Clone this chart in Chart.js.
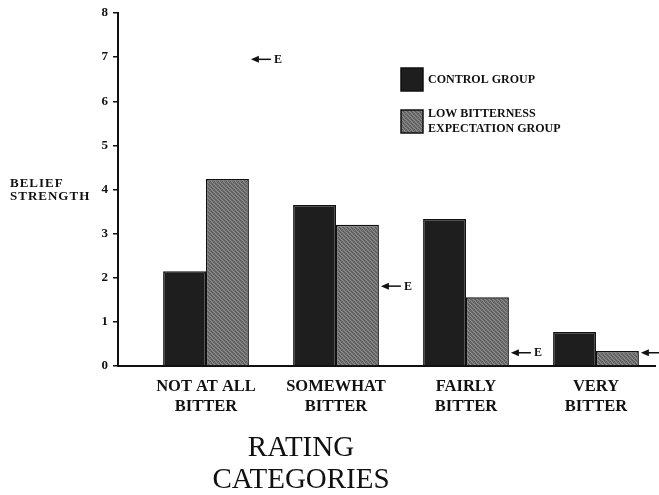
<!DOCTYPE html>
<html>
<head>
<meta charset="utf-8">
<script src="https://cdn.jsdelivr.net/npm/chart.js@4.4.1/dist/chart.umd.min.js"></script>
<style>
    html, body { margin: 0; padding: 0; background: #fff; }
</style>
</head>
<body>
<canvas id="beliefChart" width="659" height="495"></canvas>
<script>
// values
const categories = [
    ['NOT AT ALL', 'BITTER'],
    ['SOMEWHAT', 'BITTER'],
    ['FAIRLY', 'BITTER'],
    ['VERY', 'BITTER']
];
const seriesNames = [
    ['CONTROL GROUP'],
    ['LOW BITTERNESS', 'EXPECTATION GROUP']
];
const controlGroup = [2.15, 3.65, 3.33, 0.77];
const lowExpectationGroup = [4.24, 3.2, 1.56, 0.34];
const expectedValues = [6.95, 1.81, 0.3, 0.3];
const yTicks = [0, 1, 2, 3, 4, 5, 6, 7, 8];
const yTitle = ['BELIEF', 'STRENGTH'];
const xTitle = ['RATING', 'CATEGORIES'];

const SERIF = '"Liberation Serif", "DejaVu Serif", serif';
const INK = '#111';

function stipple() {
    const c = document.createElement('canvas');
    c.width = 4; c.height = 4;
    const g = c.getContext('2d');
    g.fillStyle = '#727272';
    g.fillRect(0, 0, 4, 4);
    g.fillStyle = '#565656';
    [[0, 0], [2, 1], [1, 2], [3, 3]].forEach(([px, py]) => g.fillRect(px, py, 1, 1));
    g.fillStyle = '#8e8e8e';
    [[2, 0], [0, 2], [3, 1], [1, 3]].forEach(([px, py]) => g.fillRect(px, py, 1, 1));
    return g.createPattern(c, 'repeat');
}

const annotations = {
    id: 'annotations',
    beforeDraw(chart) {
        const ctx = chart.ctx;
        ctx.save();
        ctx.fillStyle = '#fff';
        ctx.fillRect(0, 0, chart.width, chart.height);
        ctx.restore();
    },
    afterDraw(chart) {
        const { ctx, scales: { y } } = chart;
        ctx.save();
        ctx.fillStyle = INK;
        ctx.strokeStyle = INK;
        ctx.textBaseline = 'middle';

        // y axis title
        ctx.textAlign = 'left';
        ctx.font = 'bold 13px ' + SERIF;
        ctx.letterSpacing = '1px';
        yTitle.forEach((t, i) => ctx.fillText(t, 10, 184 + i * 12.5));
        ctx.letterSpacing = '0px';

        // x axis title
        ctx.textAlign = 'center';
        ctx.font = '29px ' + SERIF;
        xTitle.forEach((t, i) => ctx.fillText(t, 301, 448 + i * 32));

        // legend
        const legendTops = [68, 110];
        chart.data.datasets.forEach((ds, i) => {
            const top = legendTops[i];
            ctx.fillStyle = ds.backgroundColor;
            ctx.fillRect(401, top, 22, 23);
            ctx.lineWidth = 1.5;
            ctx.strokeRect(401, top, 22, 23);
            ctx.fillStyle = INK;
            ctx.textAlign = 'left';
            ctx.font = 'bold 12px ' + SERIF;
            const lines = seriesNames[i];
            const mid = top + 11.5;
            lines.forEach((line, j) => {
                ctx.fillText(line, 428, mid + (j - (lines.length - 1) / 2) * 15);
            });
        });

        // expectation markers "<-E"
        const meta = chart.getDatasetMeta(1);
        ctx.font = 'bold 12px ' + SERIF;
        ctx.textAlign = 'left';
        ctx.lineWidth = 1.5;
        expectedValues.forEach((v, i) => {
            const bar = meta.data[i].getProps(['x', 'width'], true);
            const tip = bar.x + bar.width / 2 + 2;
            const yy = y.getPixelForValue(v);
            ctx.beginPath();
            ctx.moveTo(tip + 6, yy);
            ctx.lineTo(tip + 20, yy);
            ctx.stroke();
            ctx.beginPath();
            ctx.moveTo(tip, yy);
            ctx.lineTo(tip + 8, yy - 3.5);
            ctx.lineTo(tip + 8, yy + 3.5);
            ctx.closePath();
            ctx.fill();
            ctx.fillText('E', tip + 23, yy + 0.5);
        });
        ctx.restore();
    }
};

const gray = stipple();

new Chart(document.getElementById('beliefChart'), {
    type: 'bar',
    data: {
        labels: categories.map((_, i) => i),
        datasets: [{
            label: seriesNames[0].join(' '),
            data: controlGroup,
            backgroundColor: '#1e1e1e',
            borderColor: INK,
            borderWidth: 1.5,
        }, {
            label: seriesNames[1].join(' '),
            data: lowExpectationGroup,
            backgroundColor: gray,
            borderColor: INK,
            borderWidth: 1.5,
        }]
    },
    options: {
        responsive: false,
        animation: false,
        devicePixelRatio: 1,
        categoryPercentage: 0.66,
        barPercentage: 1,
        layout: { padding: { top: 13, right: 4, bottom: 0, left: 0 } },
        plugins: {
            legend: { display: false },
            tooltip: { enabled: false }
        },
        scales: {
            x: {
                type: 'linear',
                offset: false,
                min: -0.677,
                max: 3.454,
                afterFit: (scale) => { scale.height = 129; },
                afterBuildTicks: (scale) => {
                    scale.ticks = categories.map((_, i) => ({ value: i }));
                },
                ticks: {
                    includeBounds: false,
                    padding: 10,
                    color: INK,
                    font: { family: SERIF, size: 16.5, weight: 'bold', lineHeight: 1.25 },
                    maxRotation: 0,
                    autoSkip: false,
                    callback: (value) => categories[Math.round(value)]
                },
                grid: { offset: false, drawOnChartArea: false, drawTicks: false },
                border: { display: true, color: INK, width: 2 }
            },
            y: {
                min: 0,
                max: 8,
                afterFit: (scale) => { scale.width = 118; },
                afterBuildTicks: (scale) => {
                    scale.ticks = yTicks.map(v => ({ value: v }));
                },
                ticks: {
                    padding: 5,
                    color: INK,
                    font: { family: SERIF, size: 13, weight: 'bold' }
                },
                grid: {
                    drawOnChartArea: false,
                    drawTicks: true,
                    tickLength: 5,
                    color: INK,
                    lineWidth: 1.5
                },
                border: { display: true, color: INK, width: 2 }
            }
        }
    },
    plugins: [annotations]
});
</script>
</body>
</html>
